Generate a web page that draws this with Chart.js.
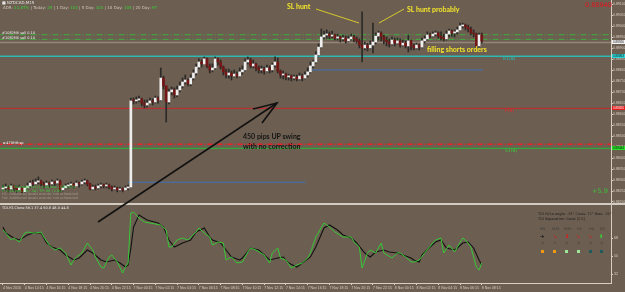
<!DOCTYPE html>
<html>
<head>
<meta charset="utf-8">
<script src="https://cdn.jsdelivr.net/npm/chart.js@4/dist/chart.umd.min.js"></script>
<style>
  body { margin: 0; background: #6c5e50; width: 625px; height: 292px; overflow: hidden; position: relative; }
  canvas { position: absolute; left: 0; }
  #main { top: 0; }
  #tdi { top: 205px; }
  #sep { position: absolute; left: 0; top: 203px; width: 625px; height: 2px; background: #d3cbc0; }
  .s { position: absolute; white-space: nowrap; line-height: 1; font-family: "DejaVu Sans", sans-serif; }
  .a { position: absolute; white-space: nowrap; line-height: 1; font-family: Lato, sans-serif; font-weight: 700; font-size: 7px; color: #f3e52c; }
  .g { color: #35d435; }
  .tag { position: absolute; left: 612px; width: 13px; height: 4px; font: 3px "Liberation Sans", sans-serif; line-height: 4px; text-align: center; }
  svg { position: absolute; left: 0; top: 0; }
</style>
</head>
<body>
<canvas id="main" width="625" height="203"></canvas>
<div id="sep"></div>
<canvas id="tdi" width="625" height="87"></canvas>

<svg width="625" height="292">
  <line x1="98" y1="222" x2="277" y2="103" stroke="#111" stroke-width="1.6"/>
  <polyline points="253,109 277,103 262,123" fill="none" stroke="#111" stroke-width="1.6"/>
  <line x1="316" y1="9" x2="359" y2="23" stroke="#d8c82e" stroke-width="1"/>
  <line x1="379" y1="23" x2="404" y2="9" stroke="#d8c82e" stroke-width="1"/>
</svg>

<div class="s" style="left:2px;top:1px;font-size:4px;color:#e6e6e6">&#9632; NZDCAD,M15</div>
<div class="s" style="left:3px;top:6px;font-size:4px;color:#cfc7bb">ADR: <span class="g">31.87%</span> | Today: <span class="g">29</span> | 1 Day: <span class="g">103</span> | 5 Day: <span class="g">103</span> | 10 Day: <span class="g">105</span> | 20 Day: <span class="g">97</span></div>
<div class="s" style="left:2px;top:32px;font-size:3.5px;color:#eee">#1082M6 sell 0.10</div>
<div class="s" style="left:2px;top:37px;font-size:3.5px;color:#eee">#1082M6 sell 0.10</div>
<div class="s" style="left:3px;top:142px;font-size:3.5px;color:#fff">e:470HH:sp</div>
<div class="s" style="left:2px;top:186px;font-size:3.5px;color:#3fd03f">S: 1% 34 trades (x1) | 0.04 lots | DD 0.0%</div>
<div class="s" style="left:2px;top:189.5px;font-size:3.5px;color:#3fd03f">P: 0.10 lots | SL: 34 | TP: 60 | 1.80</div>
<div class="s" style="left:2px;top:193px;font-size:3.5px;color:#a59a8e">H1: Additional levels events: not scheduled</div>
<div class="s" style="left:2px;top:196.5px;font-size:3.5px;color:#a59a8e">H4: Additional levels events: not scheduled</div>

<div class="a" style="left:287px;top:3px">SL hunt</div>
<div class="a" style="left:407px;top:6px">SL hunt probably</div>
<div class="a" style="left:427px;top:46px">filling shorts orders</div>
<div class="a" style="left:243px;top:133px;color:#141414">450 pips UP swing</div>
<div class="a" style="left:243px;top:143px;color:#141414">with no correction</div>

<div class="s" style="left:503px;top:57px;font-size:4.5px;color:#2bc0bb">R1(8)</div>
<div class="s" style="left:505px;top:109px;font-size:4.5px;color:#e02a2a">P(8)</div>
<div class="s" style="left:505px;top:149px;font-size:4.5px;color:#3ccf3c">S1(8)</div>
<div class="s" style="left:585px;top:2px;font-size:6.5px;color:#e3141a">0.88940</div>
<div class="s" style="left:592px;top:188px;font-size:6.5px;color:#3cc43c">+5.9</div>

<div class="tag" style="top:40px;background:#f2f2f2;color:#111">0.88926</div>
<div class="tag" style="top:54px;background:#2fd6d6;color:#111">0.88863</div>
<div class="tag" style="top:106px;background:#e41b1b;color:#fff">0.88626</div>
<div class="tag" style="top:146px;background:#27e027;color:#111">0.88444</div>

<div class="s" style="left:2px;top:207px;font-size:3.5px;color:#eee">TDI-RT-Clone 59.1 37.4 50.8 48.0 44.8</div>
<div class="s" style="left:538px;top:213px;font-size:3.5px;color:#1e1e1e">TDI Hi/Lo angle: -31&deg;  Cross: 72&deg;  Bias: -31&deg;</div>
<div class="s" style="left:538px;top:218px;font-size:3.5px;color:#1e1e1e">TDI Separation: Good [2.5]</div>
<div class="s" style="left:540px;top:228px;font-size:3.5px;color:#3a3a3a">M5</div>
<div class="s" style="left:552px;top:228px;font-size:3.5px;color:#3a3a3a">M15</div>
<div class="s" style="left:564px;top:228px;font-size:3.5px;color:#3a3a3a">M30</div>
<div class="s" style="left:577px;top:228px;font-size:3.5px;color:#3a3a3a">H1</div>
<div class="s" style="left:589px;top:228px;font-size:3.5px;color:#3a3a3a">H4</div>
<div class="s" style="left:600px;top:228px;font-size:3.5px;color:#3a3a3a">D1</div>
<div class="s" style="left:540px;top:234px;font-size:5px;color:#111">&#10140;</div>
<div class="s" style="left:553px;top:234px;font-size:5px;color:#e01818">&#10136;</div>
<div class="s" style="left:565px;top:234px;font-size:5px;color:#e01818">&#11015;</div>
<div class="s" style="left:576px;top:234px;font-size:5px;color:#e01818">&#10136;</div>
<div class="s" style="left:588px;top:234px;font-size:5px;color:#e01818">&#10136;</div>
<div class="s" style="left:599px;top:234px;font-size:5px;color:#2ee02e">&#11014;</div>
<div class="s" style="left:541px;top:241px;font-size:4px;color:#5b5047">&#9673;</div>
<div class="s" style="left:553px;top:241px;font-size:4px;color:#5b5047">&#9733;</div>
<div class="s" style="left:565px;top:241px;font-size:4px;color:#5b5047">&#9673;</div>
<div class="s" style="left:577px;top:241px;font-size:4px;color:#5b5047">&#9673;</div>
<div class="s" style="left:589px;top:241px;font-size:4px;color:#5b5047">&#9673;</div>
<div class="s" style="left:600px;top:241px;font-size:4px;color:#5b5047">&#9673;</div>
<div class="s" style="left:541px;top:250px;width:3px;height:3px;background:#f09a10"></div>
<div class="s" style="left:553px;top:250px;width:3px;height:3px;background:#f09a10"></div>
<div class="s" style="left:565px;top:250px;width:3px;height:3px;background:#9be89b"></div>
<div class="s" style="left:577px;top:250px;width:3px;height:3px;background:#9be89b"></div>
<div class="s" style="left:589px;top:250px;width:3px;height:3px;background:#1f5a5a"></div>
<div class="s" style="left:600px;top:250px;width:3px;height:3px;background:#1f5a5a"></div>

<script>
// NZDCAD M15, one value per bar (bar 0 = Fri 4 Nov 12:15, bar 47 = Mon 7 Nov 00:00)
const opens = [
  0.88259,
  0.88264,0.88268,0.88259,0.88273,0.88264,0.88255,0.88264,0.88246,0.88264,0.88273,
  0.88286,0.88282,0.88291,0.88296,0.88282,0.88277,0.88286,0.88282,0.88291,0.88286,
  0.88296,0.88255,0.88264,0.88273,0.88277,0.88282,0.88273,0.88286,0.88282,0.88291,
  0.88296,0.88282,0.88259,0.88268,0.88264,0.88273,0.88277,0.88273,0.88277,0.88268,
  0.88259,0.88264,0.88255,0.88259,0.88255,0.88264,0.88268,
  0.88660,
  0.88660,0.88664,0.88669,0.88650,0.88641,0.88650,0.88660,0.88655,0.88673,0.88664,
  0.88764,0.88728,0.88655,0.88701,0.88710,0.88687,0.88710,0.88728,0.88746,0.88755,
  0.88737,0.88764,0.88787,0.88814,0.88837,0.88828,0.88851,0.88819,0.88801,0.88810,
  0.88851,0.88837,0.88814,0.88792,0.88778,0.88787,0.88773,0.88782,0.88773,0.88792,
  0.88801,0.88837,0.88846,0.88819,0.88828,0.88810,0.88801,0.88805,0.88796,0.88810,
  0.88801,0.88823,0.88837,0.88796,0.88778,0.88782,0.88769,0.88773,0.88764,0.88769,
  0.88760,0.88773,0.88764,0.88778,0.88792,0.88819,0.88837,0.88869,0.88905,0.88951,
  0.88960,0.88964,0.88955,0.88960,0.88946,0.88951,0.88942,0.88946,0.88933,0.88942,
  0.88951,0.88942,0.88933,0.88914,0.88901,0.88914,0.88901,0.88914,0.88928,0.88955,
  0.88969,0.88951,0.88937,0.88928,0.88919,0.88937,0.88923,0.88933,0.88914,0.88923,
  0.88910,0.88933,0.88910,0.88901,0.88914,0.88905,0.88933,0.88942,0.88960,0.88955,
  0.88964,0.88969,0.88955,0.88946,0.88942,0.88964,0.88978,0.88969,0.88974,0.88983,
  0.89001,0.89005,0.88996,0.88987,0.88969,0.88964,0.88910,0.88960
];
const highs = [
  0.88277,0.88282,0.88273,0.88282,0.88277,0.88273,0.88277,0.88268,0.88273,0.88286,
  0.88296,0.88300,0.88305,0.88314,0.88300,0.88291,0.88296,0.88291,0.88300,0.88296,
  0.88305,0.88300,0.88273,0.88282,0.88286,0.88291,0.88286,0.88296,0.88291,0.88300,
  0.88305,0.88300,0.88286,0.88277,0.88277,0.88282,0.88286,0.88282,0.88286,0.88282,
  0.88273,0.88273,0.88268,0.88268,0.88264,0.88273,0.88277,
  0.88673,
  0.88673,0.88678,0.88682,0.88673,0.88664,0.88664,0.88673,0.88669,0.88682,0.88678,
  0.88810,0.88773,0.88728,0.88714,0.88723,0.88719,0.88728,0.88746,0.88764,0.88778,
  0.88760,0.88778,0.88801,0.88828,0.88851,0.88846,0.88860,0.88855,0.88828,0.88828,
  0.88860,0.88855,0.88846,0.88819,0.88805,0.88805,0.88796,0.88801,0.88792,0.88810,
  0.88819,0.88851,0.88860,0.88855,0.88846,0.88832,0.88819,0.88819,0.88814,0.88823,
  0.88819,0.88832,0.88860,0.88855,0.88801,0.88796,0.88787,0.88782,0.88778,0.88778,
  0.88778,0.88787,0.88782,0.88792,0.88810,0.88837,0.88846,0.88883,0.88919,0.88987,
  0.88978,0.88983,0.88974,0.88978,0.88964,0.88964,0.88955,0.88960,0.88955,0.88955,
  0.88964,0.88960,0.88951,0.88942,0.89065,0.88928,0.88923,0.88933,0.89014,0.88969,
  0.88978,0.88974,0.88960,0.88951,0.88942,0.88951,0.88946,0.88946,0.88942,0.88937,
  0.88933,0.88960,0.88937,0.88919,0.88923,0.88919,0.88946,0.88955,0.88974,0.88969,
  0.88974,0.88978,0.88974,0.88974,0.88964,0.88978,0.88987,0.88983,0.88983,0.88996,
  0.89014,0.89014,0.89010,0.89005,0.88996,0.88983,0.88969,0.88969,0.88969
];
const lows = [
  0.88250,0.88255,0.88246,0.88255,0.88250,0.88241,0.88250,0.88241,0.88241,0.88259,
  0.88268,0.88273,0.88277,0.88282,0.88273,0.88264,0.88273,0.88268,0.88277,0.88273,
  0.88282,0.88246,0.88250,0.88259,0.88264,0.88268,0.88264,0.88273,0.88268,0.88277,
  0.88282,0.88273,0.88255,0.88255,0.88255,0.88259,0.88264,0.88264,0.88264,0.88259,
  0.88250,0.88255,0.88246,0.88250,0.88246,0.88255,0.88255,
  0.88268,
  0.88646,0.88650,0.88655,0.88637,0.88628,0.88632,0.88646,0.88641,0.88650,0.88650,
  0.88660,0.88714,0.88564,0.88646,0.88687,0.88673,0.88678,0.88701,0.88719,0.88737,
  0.88728,0.88728,0.88755,0.88778,0.88805,0.88814,0.88828,0.88810,0.88787,0.88792,
  0.88805,0.88823,0.88805,0.88778,0.88764,0.88764,0.88755,0.88769,0.88764,0.88769,
  0.88782,0.88796,0.88828,0.88810,0.88810,0.88796,0.88787,0.88787,0.88782,0.88792,
  0.88787,0.88792,0.88814,0.88787,0.88764,0.88760,0.88755,0.88755,0.88751,0.88755,
  0.88751,0.88755,0.88751,0.88760,0.88769,0.88787,0.88810,0.88832,0.88864,0.88901,
  0.88942,0.88946,0.88942,0.88946,0.88937,0.88937,0.88928,0.88933,0.88923,0.88928,
  0.88937,0.88928,0.88923,0.88901,0.88837,0.88892,0.88887,0.88896,0.88878,0.88919,
  0.88937,0.88933,0.88919,0.88910,0.88905,0.88914,0.88910,0.88919,0.88905,0.88910,
  0.88901,0.88883,0.88892,0.88892,0.88896,0.88892,0.88901,0.88923,0.88937,0.88946,
  0.88951,0.88955,0.88946,0.88937,0.88933,0.88937,0.88951,0.88955,0.88951,0.88964,
  0.88983,0.88992,0.88983,0.88974,0.88960,0.88951,0.88905,0.88905,0.88923
];
const closes = [
  0.88264,0.88268,0.88259,0.88273,0.88264,0.88255,0.88264,0.88246,0.88264,0.88273,
  0.88286,0.88282,0.88291,0.88296,0.88282,0.88277,0.88286,0.88282,0.88291,0.88286,
  0.88296,0.88255,0.88264,0.88273,0.88277,0.88282,0.88273,0.88286,0.88282,0.88291,
  0.88296,0.88282,0.88259,0.88268,0.88264,0.88273,0.88277,0.88273,0.88277,0.88268,
  0.88259,0.88264,0.88255,0.88259,0.88255,0.88264,0.88268,
  0.88660,
  0.88660,0.88664,0.88669,0.88650,0.88641,0.88650,0.88660,0.88655,0.88673,0.88664,
  0.88764,0.88728,0.88655,0.88701,0.88710,0.88687,0.88710,0.88728,0.88746,0.88755,
  0.88737,0.88764,0.88787,0.88814,0.88837,0.88828,0.88851,0.88819,0.88801,0.88810,
  0.88851,0.88837,0.88814,0.88792,0.88778,0.88787,0.88773,0.88782,0.88773,0.88792,
  0.88801,0.88837,0.88846,0.88819,0.88828,0.88810,0.88801,0.88805,0.88796,0.88810,
  0.88801,0.88823,0.88837,0.88796,0.88778,0.88782,0.88769,0.88773,0.88764,0.88769,
  0.88760,0.88773,0.88764,0.88778,0.88792,0.88819,0.88837,0.88869,0.88905,0.88951,
  0.88960,0.88964,0.88955,0.88960,0.88946,0.88951,0.88942,0.88946,0.88933,0.88942,
  0.88951,0.88942,0.88933,0.88914,0.88901,0.88914,0.88901,0.88914,0.88928,0.88955,
  0.88969,0.88951,0.88937,0.88928,0.88919,0.88937,0.88923,0.88933,0.88914,0.88923,
  0.88910,0.88933,0.88910,0.88901,0.88914,0.88905,0.88933,0.88942,0.88960,0.88955,
  0.88964,0.88969,0.88955,0.88946,0.88942,0.88964,0.88978,0.88969,0.88974,0.88983,
  0.89001,0.89005,0.88996,0.88987,0.88969,0.88964,0.88910,0.88960,0.88933
];

// horizontal levels: price, first bar, last bar
const levelPrices = [0.88961, 0.88940, 0.88926, 0.88863, 0.88801, 0.88626, 0.88463, 0.88444, 0.88290];
const levelFrom   = [-2, -2, -2, -2, 113.5, -2, -2, -2, 46];
const levelTo     = [230, 230, 230, 230, 176.5, 230, 230, 230, 111.2];

const priceTicks = [0.88200,0.88250,0.88300,0.88350,0.88400,0.88450,0.88500,0.88550,0.88600,0.88650,
                    0.88700,0.88750,0.88800,0.88850,0.88900,0.88950,0.89000,0.89050,0.89100];

// TDI: green = RSI price line, black = trade signal line (bar, value)
const rsiBars = [0,1,3,4,6,8,9,11,12,14,15,17,19,21,23,25,26,27,29,31,33,34,36,37,39,40,42,44,45,46,47,48,50,52,54,58,60,61,62,64,66,68,71,72,74,76,77,79,81,82,84,86,88,90,91,93,96,98,99,101,102,104,106,108,110,112,113,115,118,120,122,125,128,129,131,132,134,135,137,139,140,143,145,146,148,150,151,153,155,158,159,161,162,164,166,167,169,170,172,174,175,176];
const rsiVals = [76,73,66,68,64,73,74,73,73,74,69,61,56,58,53,41,46,49,53,63,56,49,39,38,49,51,44,33,39,43,93,94,88,84,83,81,76,59,59,66,68,66,74,78,73,69,61,64,63,46,49,43,44,54,58,56,51,43,53,58,48,46,38,41,43,48,53,69,83,79,74,69,69,64,59,38,53,56,53,63,53,48,53,53,49,44,44,46,53,63,66,68,53,61,54,59,68,66,59,39,36,43];
const sigBars = [0,1,4,6,9,11,14,16,18,21,23,26,28,31,33,36,38,41,43,45,46,47,48,50,53,57,59,61,63,66,69,71,74,76,77,80,82,84,87,88,91,94,96,98,101,103,105,108,110,113,115,118,120,123,125,128,130,133,135,137,140,142,145,147,150,151,153,154,157,159,161,163,166,167,169,171,173,175,176];
const sigVals = [79,73,68,66,71,73,73,63,59,56,51,46,48,56,53,46,44,46,43,39,41,58,79,91,86,83,79,66,59,63,66,74,78,69,66,63,56,49,46,48,58,56,51,46,48,49,43,39,43,49,59,78,81,76,71,68,63,53,49,54,56,54,53,51,48,46,44,51,59,64,66,58,56,58,63,64,58,46,41];
const tdiTicks = [32, 50, 68];

const timeBars = [0,8,16,24,32,40,48,56,64,72,80,88,96,104,112,120,128,136,144,152,160,168,176];
const timeLabels = ['4 Nov 2016','4 Nov 14:15','4 Nov 16:15','4 Nov 18:15','4 Nov 20:15','4 Nov 22:15',
  '7 Nov 00:15','7 Nov 02:15','7 Nov 04:15','7 Nov 06:15','7 Nov 08:15','7 Nov 10:15','7 Nov 12:15',
  '7 Nov 14:15','7 Nov 16:15','7 Nov 18:15','7 Nov 20:15','7 Nov 22:15','8 Nov 00:15','8 Nov 02:15',
  '8 Nov 04:15','8 Nov 06:15','8 Nov 08:15'];

// view window (in bars) and axis look
const X_MIN = -1.1, X_MAX = 223.5;
const P_MIN = 0.8819545, P_MAX = 0.891191;
const AXIS = '#d8cfc2';

const levelStyles = [
  { color: '#3fae3f', width: 1, dash: [6, 2, 1, 2] },
  { color: '#3fae3f', width: 1, dash: [6, 2, 1, 2] },
  { color: '#94877a', width: 1.5, dash: [] },
  { color: '#2cb8b4', width: 1.5, dash: [] },
  { color: '#3d72b8', width: 1, dash: [] },
  { color: '#c8262a', width: 1, dash: [] },
  { color: '#ec2026', width: 1.5, dash: [5, 2, 1, 2] },
  { color: '#35a83a', width: 1.2, dash: [] },
  { color: '#3d72b8', width: 1, dash: [] }
];

function fixAxis(width, height) {
  return function (s) {
    if (width !== null) s.width = width;
    if (height !== null) s.height = height;
    s.paddingTop = 0; s.paddingBottom = 0; s.paddingLeft = 0; s.paddingRight = 0;
  };
}

// pin a scale to a fixed range and tick list
function pinTicks(min, max, values) {
  return function (s) {
    s.ticks = values.map(function (v) { return { value: v }; });
    s.min = min;
    s.max = max;
  };
}

const wickData = [], bodyData = [], bodyColors = [];
closes.forEach(function (c, i) {
  wickData.push({ x: i, y: [lows[i], highs[i]] });
  bodyData.push({ x: i, y: [opens[i], c] });
  bodyColors.push(c > opens[i] ? '#eeeeee' : '#741616');
});

const levelSets = levelPrices.map(function (p, i) {
  return {
    type: 'line',
    data: [{ x: levelFrom[i], y: p }, { x: levelTo[i], y: p }],
    borderColor: levelStyles[i].color,
    borderWidth: levelStyles[i].width,
    borderDash: levelStyles[i].dash,
    pointRadius: 0,
    order: 5
  };
});

new Chart(document.getElementById('main'), {
  type: 'bar',
  data: {
    datasets: levelSets.concat([
      { data: wickData, backgroundColor: '#2c2a28', barThickness: 1, grouped: false, order: 2 },
      { data: bodyData, backgroundColor: bodyColors, barThickness: 2, minBarLength: 1, grouped: false, order: 1 }
    ])
  },
  options: {
    responsive: false, animation: false, devicePixelRatio: 1,
    layout: { padding: 0 },
    plugins: { legend: { display: false }, tooltip: { enabled: false } },
    scales: {
      x: { type: 'linear', min: X_MIN, max: X_MAX, offset: false, bounds: 'data', display: false,
           afterBuildTicks: pinTicks(X_MIN, X_MAX, []) },
      y: {
        position: 'right', min: P_MIN, max: P_MAX, bounds: 'data',
        afterFit: fixAxis(14, null),
        afterBuildTicks: pinTicks(P_MIN, P_MAX, priceTicks),
        ticks: { font: { size: 3.5, family: 'Liberation Sans' }, color: AXIS, padding: 0,
                 callback: function (v) { return v.toFixed(5); } },
        grid: { drawOnChartArea: false, tickLength: 2, color: AXIS },
        border: { color: AXIS, width: 1 }
      }
    }
  }
});

new Chart(document.getElementById('tdi'), {
  type: 'line',
  data: {
    datasets: [
      { data: rsiBars.map(function (b, i) { return { x: b, y: rsiVals[i] }; }),
        borderColor: '#37c837', borderWidth: 1, pointRadius: 0, tension: 0 },
      { data: sigBars.map(function (b, i) { return { x: b, y: sigVals[i] }; }),
        borderColor: '#121212', borderWidth: 1.1, pointRadius: 0, tension: 0 }
    ]
  },
  options: {
    responsive: false, animation: false, devicePixelRatio: 1,
    layout: { padding: 0 },
    plugins: { legend: { display: false }, tooltip: { enabled: false } },
    scales: {
      x: {
        type: 'linear', min: X_MIN, max: X_MAX, bounds: 'data',
        afterFit: fixAxis(null, 9),
        afterBuildTicks: pinTicks(X_MIN, X_MAX, timeBars),
        ticks: { font: { size: 3.5, family: 'Liberation Sans' }, color: AXIS, align: 'start', maxRotation: 0,
                 autoSkip: false, padding: 1,
                 callback: function (v, i) { return timeLabels[i]; } },
        grid: { drawOnChartArea: false, tickLength: 2, color: AXIS },
        border: { color: AXIS, width: 1 }
      },
      y: {
        position: 'right', min: 23, max: 101, bounds: 'data',
        afterFit: fixAxis(14, null),
        afterBuildTicks: pinTicks(23, 101, tdiTicks),
        ticks: { font: { size: 3.5, family: 'Liberation Sans' }, color: AXIS, padding: 1 },
        grid: { drawOnChartArea: false, tickLength: 2, color: AXIS },
        border: { color: AXIS, width: 1 }
      }
    }
  }
});
</script>
</body>
</html>
